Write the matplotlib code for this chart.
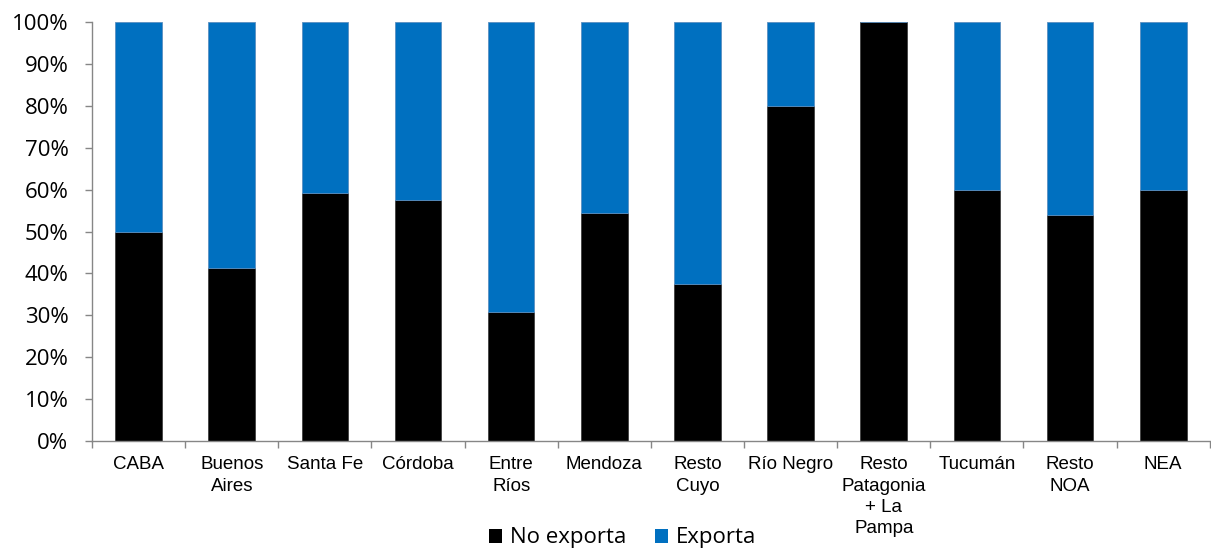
import matplotlib.pyplot as plt
from matplotlib.patches import Patch
from matplotlib.ticker import FixedLocator

# Participación de empresas que exportan / no exportan por región (%)
regiones = ['CABA', 'Buenos\nAires', 'Santa Fe', 'Córdoba', 'Entre\nRíos', 'Mendoza',
            'Resto\nCuyo', 'Río Negro', 'Resto\nPatagonia\n+ La\nPampa', 'Tucumán',
            'Resto\nNOA', 'NEA']
no_exporta = [50.0, 41.4, 59.1, 57.6, 30.7, 54.5, 37.4, 80.0, 100.0, 60.0, 53.9, 60.0]
exporta = [100 - v for v in no_exporta]

negro = '#000000'
azul = '#0070C0'
gris = '#868686'

fig = plt.figure(figsize=(12.11, 5.5), dpi=100)
ax = fig.add_axes([0.076, 0.198, 0.923, 0.762])

x = list(range(len(regiones)))
ax.bar(x, no_exporta, width=0.5, color=negro, edgecolor='#404040', linewidth=0.6)
ax.bar(x, exporta, width=0.5, bottom=no_exporta, color=azul, edgecolor='#5a8fc0', linewidth=0.6)

ax.set_xlim(-0.5, len(regiones) - 0.5)
ax.set_ylim(0, 100)

ax.set_yticks(range(0, 101, 10))
ax.set_yticklabels([f'{v}%' for v in range(0, 101, 10)], fontsize=16, family='Open Sans')
ax.tick_params(axis='y', length=5, width=1, color=gris, pad=12)

ax.set_xticks(x)
ax.set_xticklabels(regiones, fontsize=13.5, family='Liberation Sans', linespacing=1.32, va='top')
ax.tick_params(axis='x', which='major', length=0, pad=11)
ax.xaxis.set_minor_locator(FixedLocator([i - 0.5 for i in range(len(regiones) + 1)]))
ax.tick_params(axis='x', which='minor', length=5, width=1, color=gris)

for s in ['top', 'right']:
    ax.spines[s].set_visible(False)
for s in ['left', 'bottom']:
    ax.spines[s].set_color(gris)
    ax.spines[s].set_linewidth(1)

handles = [Patch(facecolor=negro, label='No exporta'), Patch(facecolor=azul, label='Exporta')]
fig.legend(handles=handles, loc='center', bbox_to_anchor=(0.514, 0.022), ncol=2, frameon=False,
           prop={'family': 'Open Sans', 'size': 16}, handlelength=0.6, handleheight=0.6,
           handletextpad=0.35, columnspacing=1.3)

fig.savefig('out.png', dpi=100)
